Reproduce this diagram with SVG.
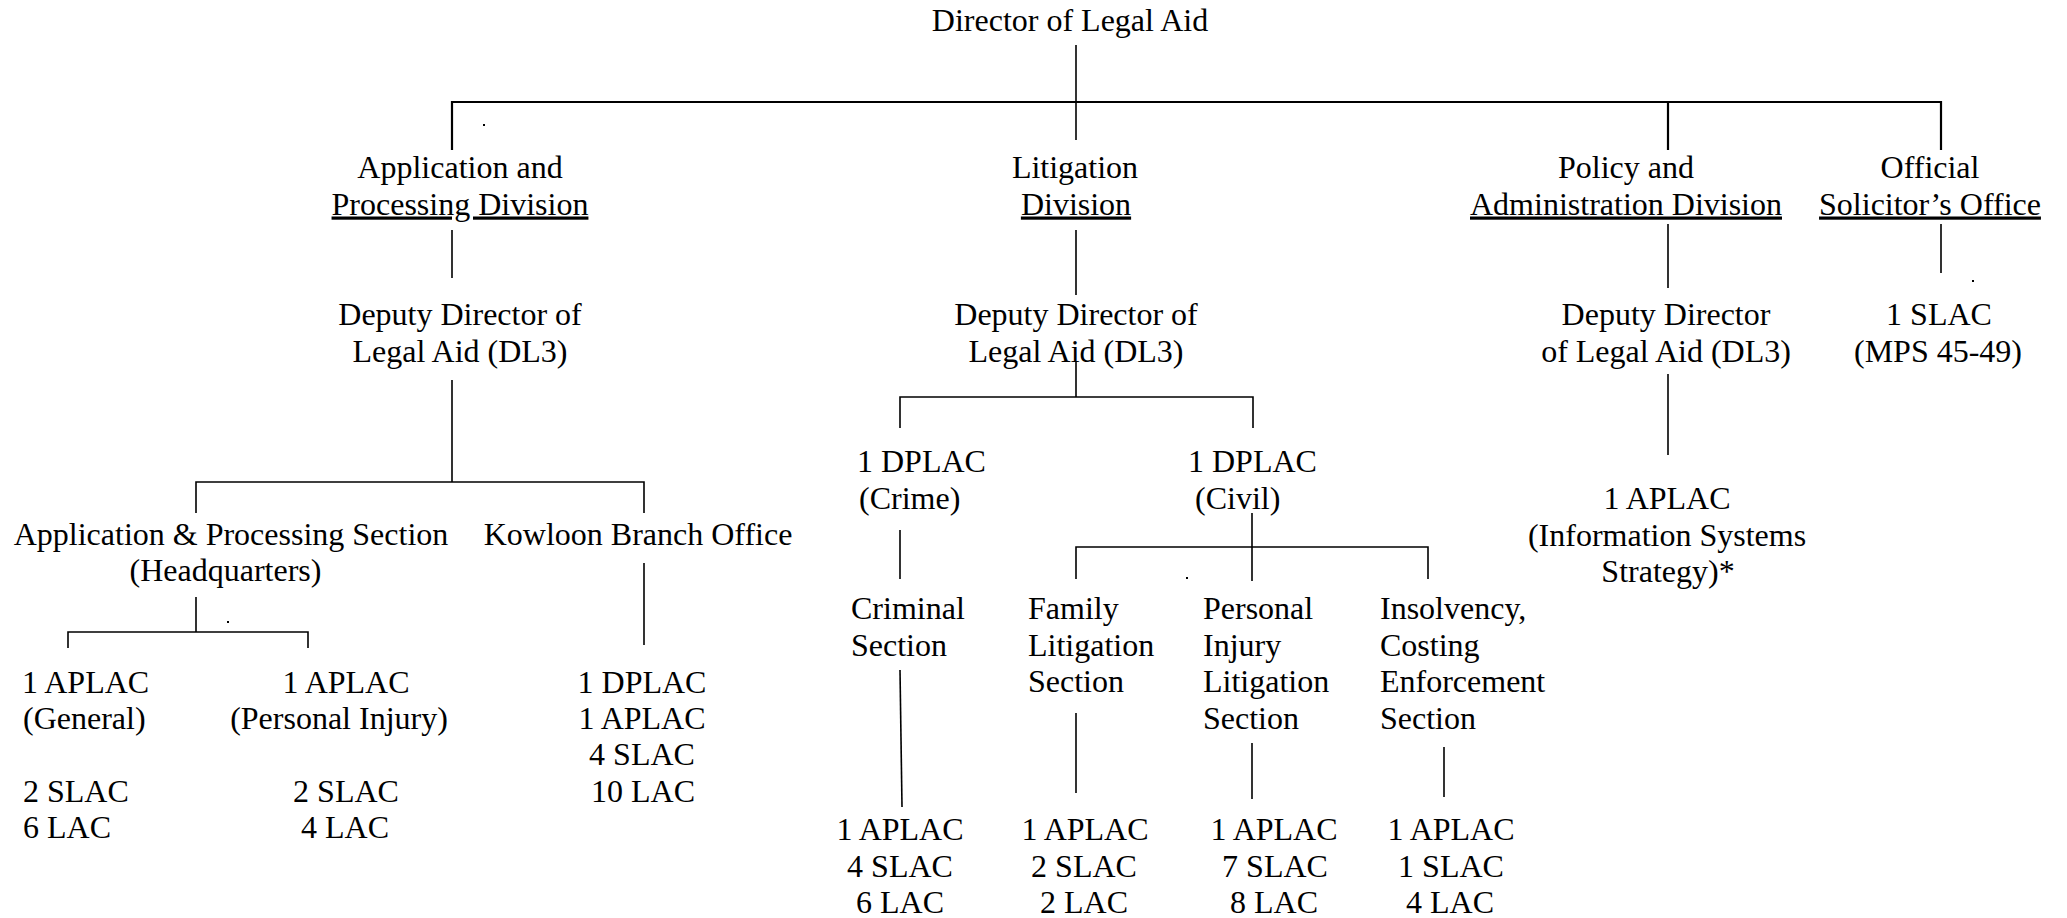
<svg xmlns="http://www.w3.org/2000/svg" width="2067" height="918" viewBox="0 0 2067 918">
<style>
text{font-family:"Liberation Serif","Times New Roman",serif;font-size:32px;fill:#000}
.m{text-anchor:middle}
.u{text-decoration:underline}
.ln{stroke:#000;stroke-width:1.6;fill:none}
.thick{stroke-width:2.2}
</style>
<rect width="2067" height="918" fill="#fff"/>
<g id="connectors">
<path class="ln" d="M1076 45V140"/>
<path class="ln thick" d="M452 150V102H1941V150M1668 102V150"/>
<path class="ln" d="M452 230V278M1076 230V295M1668 224V288M1941 224V273"/>
<path class="ln" d="M452 380V482M196 513V482H644V513"/>
<path class="ln" d="M196 597V632M68 648V632H308V648"/>
<path class="ln" d="M644 563V645"/>
<path class="ln" d="M1076 362V397M900 428V397H1253V428"/>
<path class="ln" d="M900 530V579"/>
<path class="ln" d="M1252 513V581M1076 579V547H1428V579"/>
<path class="ln" d="M900 670L902 807"/>
<path class="ln" d="M1076 713V793"/>
<path class="ln" d="M1252 743V799"/>
<path class="ln" d="M1444 747V797" stroke-width="2.6"/>
<path class="ln" d="M1668 374V455"/>
<rect x="483" y="124" width="2" height="2" fill="#000"/>
<rect x="227" y="621" width="2" height="2" fill="#000"/>
<rect x="1186" y="577" width="2" height="2" fill="#000"/>
<rect x="1972" y="280" width="2" height="2" fill="#000"/>
</g>
<g id="director"><text class="m" x="1070" y="31">Director of Legal Aid</text></g>
<g id="app-div"><text class="m" x="460" y="178">Application and</text><text class="m u" x="460" y="214.5">Processing Division</text></g>
<g id="lit-div"><text class="m" x="1075" y="178">Litigation</text><text class="m u" x="1076" y="214.5">Division</text></g>
<g id="pol-div"><text class="m" x="1626" y="178">Policy and</text><text class="m u" x="1626" y="214.5">Administration Division</text></g>
<g id="os-office"><text class="m" x="1930" y="178">Official</text><text class="m u" x="1930" y="214.5">Solicitor’s Office</text></g>
<g id="app-dd"><text class="m" x="460" y="325">Deputy Director of</text><text class="m" x="460" y="361.5">Legal Aid (DL3)</text></g>
<g id="lit-dd"><text class="m" x="1076" y="325">Deputy Director of</text><text class="m" x="1076" y="361.5">Legal Aid (DL3)</text></g>
<g id="pol-dd"><text class="m" x="1666" y="325">Deputy Director</text><text class="m" x="1666" y="361.5">of Legal Aid (DL3)</text></g>
<g id="os-slac"><text class="m" x="1939" y="325">1 SLAC</text><text class="m" x="1938" y="361.5">(MPS 45-49)</text></g>
<g id="dplac-crime"><text x="857" y="472">1 DPLAC</text><text x="859" y="508.5">(Crime)</text></g>
<g id="dplac-civil"><text x="1188" y="472">1 DPLAC</text><text x="1195" y="508.5">(Civil)</text></g>
<g id="aplac-is"><text class="m" x="1667" y="509">1 APLAC</text><text class="m" x="1667" y="545.5">(Information Systems</text><text class="m" x="1668" y="582">Strategy)*</text></g>
<g id="ap-section"><text class="m" x="231" y="545">Application &amp; Processing Section</text><text class="m" x="225.5" y="581">(Headquarters)</text></g>
<g id="kowloon"><text class="m" x="638" y="545">Kowloon Branch Office</text></g>
<g id="hq-general"><text x="22" y="693">1 APLAC</text><text x="23" y="729">(General)</text><text x="23" y="802">2 SLAC</text><text x="23" y="838">6 LAC</text></g>
<g id="hq-pi"><text class="m" x="346" y="693">1 APLAC</text><text class="m" x="339" y="729">(Personal Injury)</text><text class="m" x="346" y="802">2 SLAC</text><text class="m" x="345" y="838">4 LAC</text></g>
<g id="kowloon-staff"><text class="m" x="642" y="693">1 DPLAC</text><text class="m" x="642" y="729">1 APLAC</text><text class="m" x="642" y="765">4 SLAC</text><text class="m" x="643" y="802">10 LAC</text></g>
<g id="criminal"><text x="851" y="619">Criminal</text><text x="851" y="655.5">Section</text></g>
<g id="family"><text x="1028" y="619">Family</text><text x="1028" y="655.5">Litigation</text><text x="1028" y="692">Section</text></g>
<g id="pi-lit"><text x="1203" y="619">Personal</text><text x="1203" y="655.5">Injury</text><text x="1203" y="692">Litigation</text><text x="1203" y="728.5">Section</text></g>
<g id="insolvency"><text x="1380" y="619">Insolvency,</text><text x="1380" y="655.5">Costing</text><text x="1380" y="692">Enforcement</text><text x="1380" y="728.5">Section</text></g>
<g id="crim-staff"><text class="m" x="900" y="840">1 APLAC</text><text class="m" x="900" y="876.5">4 SLAC</text><text class="m" x="900" y="913">6 LAC</text></g>
<g id="fam-staff"><text class="m" x="1085" y="840">1 APLAC</text><text class="m" x="1084" y="876.5">2 SLAC</text><text class="m" x="1084" y="913">2 LAC</text></g>
<g id="pi-staff"><text class="m" x="1274" y="840">1 APLAC</text><text class="m" x="1275" y="876.5">7 SLAC</text><text class="m" x="1274" y="913">8 LAC</text></g>
<g id="ins-staff"><text class="m" x="1451" y="840">1 APLAC</text><text class="m" x="1451" y="876.5">1 SLAC</text><text class="m" x="1450" y="913">4 LAC</text></g>
</svg>
